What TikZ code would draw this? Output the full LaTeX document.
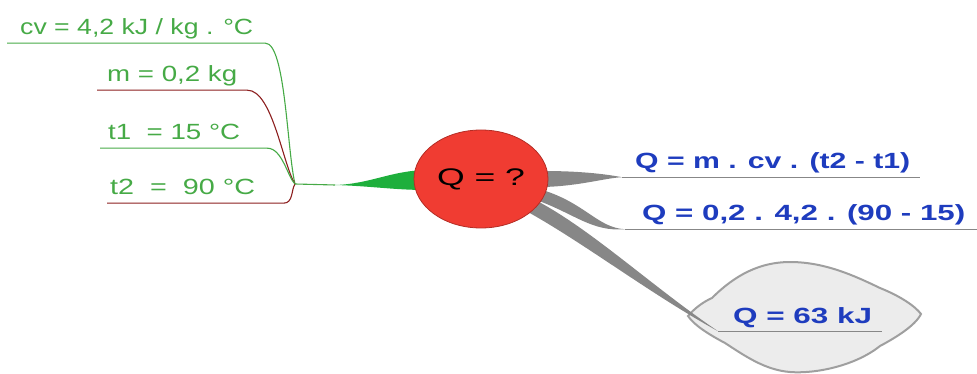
\documentclass[tikz,border=0pt]{standalone}
\usepackage{fontspec}
\setmainfont{Liberation Sans}
\usepackage{graphicx}
\usetikzlibrary{shapes.geometric,backgrounds}
\definecolor{leafgreen}{RGB}{70,170,70}
\definecolor{leafred}{RGB}{140,30,30}
\definecolor{stemgreen}{RGB}{30,175,60}
\definecolor{qred}{RGB}{240,60,50}
\definecolor{qblue}{RGB}{30,60,190}
\definecolor{branchgray}{RGB}{135,135,135}
\definecolor{cloudgray}{RGB}{236,236,236}
\tikzset{
  leaf/.style={anchor=base west, inner xsep=0pt, inner ysep=2pt, text depth=6pt,
               text=leafgreen, font=\fontsize{22}{26}\selectfont},
  result/.style={leaf, text=qblue, font=\fontsize{22}{26}\selectfont\bfseries},
  centre/.style={ellipse, draw=qred!75!black, fill=qred, line width=0.8pt,
                 minimum width=134pt, minimum height=98pt,
                 font=\fontsize{24}{28}\selectfont},
  greenline/.style={draw=leafgreen, line width=1.1pt},
  redline/.style={draw=leafred, line width=1.1pt},
  grayline/.style={draw=branchgray, line width=1.2pt},
  cloudline/.style={draw=branchgray!80, fill=cloudgray, line width=2pt}
}
\newcommand{\fitw}[2]{\resizebox{#1}{\height}{#2}}

\begin{document}
\begin{tikzpicture}[x=1pt,y=-1pt]
  \useasboundingbox (0,0) rectangle (977,374);
  % central topic
  \node[centre] (q) at (481,179) {\fitw{88pt}{Q = ?}};
  % given data
  \node[leaf] (cv) at (20,35) {\fitw{233pt}{cv = 4,2 kJ / kg . °C}};
  \node[leaf] (m) at (107,82) {\fitw{130pt}{m = 0,2 kg}};
  \node[leaf] (t1) at (108,140) {\fitw{132pt}{t1\ \ = 15 °C}};
  \node[leaf] (t2) at (110,195) {\fitw{145pt}{t2\ \ =\ \ 90 °C}};
  \coordinate (hub) at (295,184);
  \coordinate (stem) at (335,185);
  % results
  \node[result] (f1) at (635,169) {\fitw{275pt}{Q = m . cv . (t2 - t1)}};
  \node[result] (f2) at (642,221) {\fitw{323pt}{Q = 0,2 . 4,2 . (90 - 15)}};
  \node[result] (res) at (733,323) {\fitw{139pt}{Q = 63 kJ}};
  \coordinate (tip1) at ([xshift=-13pt]f1.south west);
  \coordinate (tip2) at ([xshift=-17pt]f2.south west);
  \coordinate (tip3) at ([xshift=-15pt]res.south west);

  \begin{scope}[on background layer]
    % cloud round the answer
    \draw[cloudline] (688,316) .. controls (695,308) and (703,302) .. (712,298)
      .. controls (735,275) and (760,262) .. (790,262)
      .. controls (825,262) and (855,276) .. (880,288)
      .. controls (900,296) and (915,306) .. (921,314)
      .. controls (915,326) and (895,338) .. (880,346)
      .. controls (855,366) and (815,374) .. (790,372)
      .. controls (765,370) and (745,356) .. (725,343)
      .. controls (708,334) and (694,325) .. (688,316) -- cycle;
    % branches
    \fill[stemgreen] (stem) .. controls (370,184) and (390,171) .. ([shift={(12,-9)}]q.west)
      -- ([shift={(12,11)}]q.west) .. controls (395,190) and (370,186) .. (stem) -- cycle;
    \fill[branchgray] ([shift={(-5,-8)}]q.east) .. controls (580,171) and (605,174) .. (tip1)
      .. controls (605,178) and (580,186) .. ([shift={(-5,8)}]q.east) -- cycle;
    \fill[branchgray] ([shift={(-6,11)}]q.east) .. controls (585,203) and (598,228) .. (tip2)
      .. controls (592,232) and (575,214) .. ([shift={(-12,21)}]q.east) -- cycle;
    \fill[branchgray] ([shift={(-15,20)}]q.east) .. controls (590,228) and (650,285) .. (tip3)
      .. controls (650,294) and (580,240) .. ([shift={(-26,30)}]q.east) -- cycle;
  \end{scope}

  % underlines
  \draw[greenline] ([xshift=-13pt]cv.south west) -- ([xshift=12pt]cv.south east)
    .. controls +(20,0) and (287,150) .. (hub);
  \draw[redline] ([xshift=-10pt]m.south west) -- ([xshift=10pt]m.south east)
    .. controls +(25,0) and (283,165) .. (hub);
  \draw[greenline] ([xshift=-8pt]t1.south west) -- ([xshift=27pt]t1.south east)
    .. controls +(15,0) and (288,178) .. (hub);
  \draw[redline] ([xshift=-3pt]t2.south west) -- ([xshift=28pt]t2.south east)
    .. controls +(10,0) and (291,190) .. (hub);
  \draw[greenline] (hub) -- (stem);
  \draw[grayline] (tip1) -- ([xshift=10pt]f1.south east);
  \draw[grayline] (tip2) -- ([xshift=12pt]f2.south east);
  \draw[grayline] (tip3) -- ([xshift=10pt]res.south east);
\end{tikzpicture}
\end{document}
